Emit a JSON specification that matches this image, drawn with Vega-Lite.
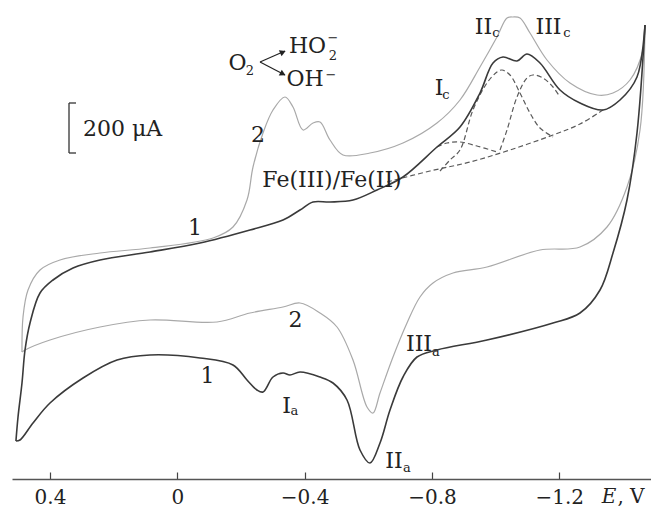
{
  "$schema": "https://vega.github.io/schema/vega-lite/v6.json",
  "autosize": {"type": "none"},
  "padding": {"left": 12, "right": 0, "top": 0, "bottom": 29},
  "width": 639,
  "height": 479,
  "background": "white",
  "config": {"view": {"stroke": null}, "font": "DejaVu Serif"},
  "datasets": {
    "curve1": [
      {"b":"u","i":1,"E":0.507,"I":-564},{"b":"u","i":2,"E":0.5005,"I":-468},{"b":"u","i":3,"E":0.488,"I":-332},{"b":"u","i":4,"E":0.4785,"I":-200},
      {"b":"u","i":5,"E":0.4628,"I":-92},{"b":"u","i":6,"E":0.4314,"I":28},{"b":"u","i":7,"E":0.3906,"I":80},{"b":"u","i":8,"E":0.3277,"I":128},
      {"b":"u","i":9,"E":0.2429,"I":160},{"b":"u","i":10,"E":0.0858,"I":192},{"b":"u","i":11,"E":-0.0713,"I":228},{"b":"u","i":12,"E":-0.2283,"I":280},
      {"b":"u","i":13,"E":-0.332,"I":320},{"b":"u","i":14,"E":-0.3854,"I":360},{"b":"u","i":15,"E":-0.4263,"I":392},{"b":"u","i":16,"E":-0.4797,"I":392},
      {"b":"u","i":17,"E":-0.5519,"I":400},{"b":"u","i":18,"E":-0.6273,"I":440},{"b":"u","i":19,"E":-0.709,"I":492},{"b":"u","i":20,"E":-0.8158,"I":612},
      {"b":"u","i":21,"E":-0.8881,"I":692},{"b":"u","i":22,"E":-0.9509,"I":828},{"b":"u","i":23,"E":-0.9918,"I":948},{"b":"u","i":24,"E":-1.0232,"I":972},
      {"b":"u","i":25,"E":-1.0672,"I":956},{"b":"u","i":26,"E":-1.0986,"I":984},{"b":"u","i":27,"E":-1.1394,"I":948},{"b":"u","i":28,"E":-1.2023,"I":840},
      {"b":"u","i":29,"E":-1.2651,"I":788},{"b":"u","i":30,"E":-1.3374,"I":760},{"b":"u","i":31,"E":-1.3908,"I":800},{"b":"u","i":32,"E":-1.4442,"I":892},
      {"b":"u","i":33,"E":-1.4694,"I":1100},
      {"b":"l","i":33,"E":-1.4694,"I":1100},{"b":"l","i":34,"E":-1.4442,"I":668},{"b":"l","i":35,"E":-1.4128,"I":400},{"b":"l","i":36,"E":-1.3688,"I":188},
      {"b":"l","i":37,"E":-1.328,"I":40},{"b":"l","i":38,"E":-1.2651,"I":-52},{"b":"l","i":39,"E":-1.1803,"I":-92},{"b":"l","i":40,"E":-0.9729,"I":-160},
      {"b":"l","i":41,"E":-0.8158,"I":-200},{"b":"l","i":42,"E":-0.753,"I":-228},{"b":"l","i":43,"E":-0.709,"I":-308},{"b":"l","i":44,"E":-0.6682,"I":-440},
      {"b":"l","i":45,"E":-0.6368,"I":-572},{"b":"l","i":46,"E":-0.6053,"I":-652},{"b":"l","i":47,"E":-0.5739,"I":-600},{"b":"l","i":48,"E":-0.5331,"I":-400},
      {"b":"l","i":49,"E":-0.4891,"I":-332},{"b":"l","i":50,"E":-0.4483,"I":-308},{"b":"l","i":51,"E":-0.3854,"I":-288},{"b":"l","i":52,"E":-0.354,"I":-300},
      {"b":"l","i":53,"E":-0.332,"I":-292},{"b":"l","i":54,"E":-0.3006,"I":-308},{"b":"l","i":55,"E":-0.2692,"I":-368},{"b":"l","i":56,"E":-0.2503,"I":-360},
      {"b":"l","i":57,"E":-0.2189,"I":-320},{"b":"l","i":58,"E":-0.1749,"I":-260},{"b":"l","i":59,"E":-0.0713,"I":-232},{"b":"l","i":60,"E":0.0858,"I":-220},
      {"b":"l","i":61,"E":0.1895,"I":-240},{"b":"l","i":62,"E":0.2963,"I":-312},{"b":"l","i":63,"E":0.4,"I":-412},{"b":"l","i":64,"E":0.4534,"I":-492},
      {"b":"l","i":65,"E":0.4943,"I":-560},{"b":"l","i":66,"E":0.507,"I":-564}
    ],
    "curve2": [
      {"b":"u","i":1,"E":0.488,"I":-208},{"b":"u","i":2,"E":0.4848,"I":-68},{"b":"u","i":3,"E":0.4691,"I":40},{"b":"u","i":4,"E":0.4314,"I":120},
      {"b":"u","i":5,"E":0.3686,"I":160},{"b":"u","i":6,"E":0.2429,"I":188},{"b":"u","i":7,"E":0.0858,"I":208},{"b":"u","i":8,"E":-0.1121,"I":248},
      {"b":"u","i":9,"E":-0.1749,"I":292},{"b":"u","i":10,"E":-0.2189,"I":400},{"b":"u","i":11,"E":-0.2378,"I":532},{"b":"u","i":12,"E":-0.2692,"I":668},
      {"b":"u","i":13,"E":-0.3006,"I":760},{"b":"u","i":14,"E":-0.3383,"I":812},{"b":"u","i":15,"E":-0.3634,"I":772},{"b":"u","i":16,"E":-0.3949,"I":680},
      {"b":"u","i":17,"E":-0.4263,"I":708},{"b":"u","i":18,"E":-0.4483,"I":712},{"b":"u","i":19,"E":-0.4797,"I":640},{"b":"u","i":20,"E":-0.5205,"I":580},
      {"b":"u","i":21,"E":-0.6053,"I":588},{"b":"u","i":22,"E":-0.709,"I":628},{"b":"u","i":23,"E":-0.8158,"I":708},{"b":"u","i":24,"E":-0.8881,"I":800},
      {"b":"u","i":25,"E":-0.9509,"I":932},{"b":"u","i":26,"E":-1.0043,"I":1052},{"b":"u","i":27,"E":-1.0358,"I":1128},{"b":"u","i":28,"E":-1.0546,"I":1132},
      {"b":"u","i":29,"E":-1.0766,"I":1128},{"b":"u","i":30,"E":-1.108,"I":1068},{"b":"u","i":31,"E":-1.1614,"I":960},{"b":"u","i":32,"E":-1.2337,"I":868},
      {"b":"u","i":33,"E":-1.3185,"I":820},{"b":"u","i":34,"E":-1.3688,"I":828},{"b":"u","i":35,"E":-1.4222,"I":880},{"b":"u","i":36,"E":-1.4631,"I":1000},
      {"b":"u","i":37,"E":-1.4694,"I":1100},
      {"b":"l","i":37,"E":-1.4694,"I":1100},{"b":"l","i":38,"E":-1.4537,"I":680},{"b":"l","i":39,"E":-1.4128,"I":452},{"b":"l","i":40,"E":-1.35,"I":292},
      {"b":"l","i":41,"E":-1.2651,"I":212},{"b":"l","i":42,"E":-1.1394,"I":200},{"b":"l","i":43,"E":-0.9729,"I":132},{"b":"l","i":44,"E":-0.8661,"I":108},
      {"b":"l","i":45,"E":-0.8033,"I":68},{"b":"l","i":46,"E":-0.7624,"I":12},{"b":"l","i":47,"E":-0.7216,"I":-92},{"b":"l","i":48,"E":-0.6776,"I":-228},
      {"b":"l","i":49,"E":-0.6368,"I":-372},{"b":"l","i":50,"E":-0.6148,"I":-452},{"b":"l","i":51,"E":-0.5959,"I":-428},{"b":"l","i":52,"E":-0.5519,"I":-240},
      {"b":"l","i":53,"E":-0.5017,"I":-108},{"b":"l","i":54,"E":-0.4483,"I":-52},{"b":"l","i":55,"E":-0.3854,"I":-12},{"b":"l","i":56,"E":-0.332,"I":-28},
      {"b":"l","i":57,"E":-0.2283,"I":-52},{"b":"l","i":58,"E":-0.1247,"I":-88},{"b":"l","i":59,"E":0.0858,"I":-80},{"b":"l","i":60,"E":0.2429,"I":-108},
      {"b":"l","i":61,"E":0.4,"I":-160},{"b":"l","i":62,"E":0.4785,"I":-200},{"b":"l","i":63,"E":0.488,"I":-208}
    ],
    "dashed": [
      {"s":"base","i":1,"E":-0.6588,"I":472},{"s":"base","i":2,"E":-0.7938,"I":516},{"s":"base","i":3,"E":-0.9195,"I":552},
      {"s":"base","i":4,"E":-1.0452,"I":600},{"s":"base","i":5,"E":-1.1803,"I":660},{"s":"base","i":6,"E":-1.2651,"I":704},
      {"s":"base","i":7,"E":-1.3374,"I":760},
      {"s":"Ic","i":1,"E":-0.8158,"I":612},{"s":"Ic","i":2,"E":-0.8473,"I":628},{"s":"Ic","i":3,"E":-0.8881,"I":632},
      {"s":"Ic","i":4,"E":-0.9415,"I":616},{"s":"Ic","i":5,"E":-1.0043,"I":592},
      {"s":"IIc","i":1,"E":-0.8253,"I":516},{"s":"IIc","i":2,"E":-0.8567,"I":560},{"s":"IIc","i":3,"E":-0.8881,"I":600},
      {"s":"IIc","i":4,"E":-0.9289,"I":760},{"s":"IIc","i":5,"E":-0.9729,"I":868},{"s":"IIc","i":6,"E":-1.0043,"I":912},
      {"s":"IIc","i":7,"E":-1.0201,"I":920},{"s":"IIc","i":8,"E":-1.0452,"I":900},{"s":"IIc","i":9,"E":-1.0766,"I":828},
      {"s":"IIc","i":10,"E":-1.108,"I":748},{"s":"IIc","i":11,"E":-1.1394,"I":688},{"s":"IIc","i":12,"E":-1.1803,"I":652},
      {"s":"IIIc","i":1,"E":-1.0138,"I":600},{"s":"IIIc","i":2,"E":-1.0358,"I":680},{"s":"IIIc","i":3,"E":-1.0672,"I":812},
      {"s":"IIIc","i":4,"E":-1.0986,"I":888},{"s":"IIIc","i":5,"E":-1.1174,"I":900},{"s":"IIIc","i":6,"E":-1.1489,"I":888},
      {"s":"IIIc","i":7,"E":-1.1803,"I":852},{"s":"IIIc","i":8,"E":-1.2023,"I":812}
    ],
    "scalebar": [
      {"E":0.3403,"E2":0.3403,"I":788,"I2":588},
      {"E":0.3403,"E2":0.3183,"I":788,"I2":788},
      {"E":0.3403,"E2":0.3183,"I":588,"I2":588}
    ],
    "arrows": [
      {"E":-0.2598,"E2":-0.3383,"I":952,"I2":996},
      {"E":-0.2598,"E2":-0.3383,"I":952,"I2":900}
    ],
    "labels": [
      {"t":"2","E":-0.2535,"I":660},{"t":"1","E":-0.0555,"I":290},{"t":"Fe(III)/Fe(II)","E":-0.486,"I":480},
      {"t":"I","E":-0.8221,"I":848},{"t":"II","E":-0.9619,"I":1092},{"t":"III","E":-1.1661,"I":1092},
      {"t":"2","E":-0.3713,"I":-80},{"t":"1","E":-0.0948,"I":-302},{"t":"I","E":-0.343,"I":-424},
      {"t":"III","E":-0.7593,"I":-174},{"t":"II","E":-0.6807,"I":-644},{"t":"200 μA","E":0.1722,"I":684},
      {"t":"O","E":-0.1891,"I":948},{"t":"HO","E":-0.409,"I":1016},{"t":"OH","E":-0.4011,"I":884}
    ],
    "subs": [
      {"t":"c","E":-0.8441,"I":820},{"t":"c","E":-1.0012,"I":1068},{"t":"c","E":-1.2243,"I":1068},
      {"t":"a","E":-0.3681,"I":-444},{"t":"a","E":-0.8127,"I":-208},{"t":"a","E":-0.7216,"I":-672},
      {"t":"2","E":-0.2283,"I":916},{"t":"2","E":-0.4891,"I":978},{"t":"−","E":-0.4891,"I":1050},{"t":"−","E":-0.4828,"I":902}
    ],
    "axtitle": [{"t":", V","E":-1.4253,"I":-788}],
    "italic": [{"t":"E","E":-1.3562,"I":-788}],
    "headUp": [{"E":-0.3289,"I":990}],
    "headDown": [{"E":-0.3289,"I":906}]
  },
  "encoding": {
    "x": {"field":"E","type":"quantitative","scale":{"domain":[0.5194,-1.4882],"nice":false,"zero":false},
      "axis":{"values":[0.4,0,-0.4,-0.8,-1.2],"format":".1~f","title":null,"grid":false,"domainColor":"#555","domainWidth":1.6,
        "tickColor":"#444","tickWidth":1.2,"tickSize":-7,"labelPadding":25,"labelBaseline":"middle","labelFont":"DejaVu Serif","labelFontSize":20,"labelColor":"#222","labelFlush":false,"labelOverlap":false}},
    "y": {"field":"I","type":"quantitative","scale":{"domain":[-716,1200],"nice":false,"zero":false},"axis":null}
  },
  "layer": [
    {"data":{"name":"curve2"},"mark":{"type":"line","color":"#a9a9a9","strokeWidth":1.2,"interpolate":"catmull-rom"},"encoding":{"detail":{"field":"b"},"order":{"field":"i","type":"quantitative"}}},
    {"data":{"name":"dashed"},"mark":{"type":"line","color":"#5a5a5a","strokeWidth":1.2,"strokeDash":[5,3],"interpolate":"catmull-rom"},"encoding":{"detail":{"field":"s"},"order":{"field":"i","type":"quantitative"}}},
    {"data":{"name":"curve1"},"mark":{"type":"line","color":"#3a3a3a","strokeWidth":1.6,"interpolate":"catmull-rom"},"encoding":{"detail":{"field":"b"},"order":{"field":"i","type":"quantitative"}}},
    {"data":{"name":"scalebar"},"mark":{"type":"rule","color":"#333","strokeWidth":1.3},"encoding":{"x2":{"field":"E2"},"y2":{"field":"I2"}}},
    {"data":{"name":"arrows"},"mark":{"type":"rule","color":"#222","strokeWidth":1.2},"encoding":{"x2":{"field":"E2"},"y2":{"field":"I2"}}},
    {"data":{"name":"headUp"},"mark":{"type":"point","shape":"triangle","filled":true,"color":"#222","size":45,"angle":66,"opacity":1},"encoding":{}},
    {"data":{"name":"headDown"},"mark":{"type":"point","shape":"triangle","filled":true,"color":"#222","size":45,"angle":117,"opacity":1},"encoding":{}},
    {"data":{"name":"labels"},"mark":{"type":"text","font":"DejaVu Serif","fontSize":22,"color":"#222","align":"center","baseline":"middle"},"encoding":{"text":{"field":"t"}}},
    {"data":{"name":"subs"},"mark":{"type":"text","font":"DejaVu Serif","fontSize":13,"color":"#222","align":"center","baseline":"middle"},"encoding":{"text":{"field":"t"}}},
    {"data":{"name":"axtitle"},"mark":{"type":"text","font":"DejaVu Serif","fontSize":20,"color":"#222","align":"center","baseline":"middle"},"encoding":{"text":{"field":"t"}}},
    {"data":{"name":"italic"},"mark":{"type":"text","font":"DejaVu Serif","fontSize":20,"fontStyle":"italic","color":"#222","align":"center","baseline":"middle"},"encoding":{"text":{"field":"t"}}}
  ]
}
